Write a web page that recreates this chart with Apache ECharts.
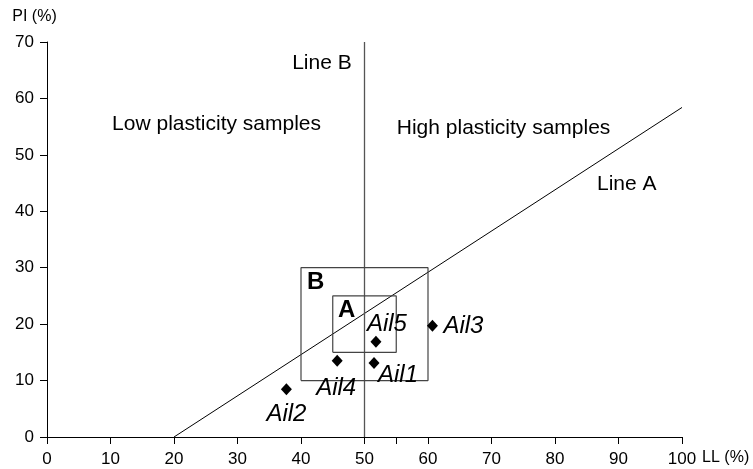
<!DOCTYPE html>
<html>
<head>
<meta charset="utf-8">
<script src="https://cdn.jsdelivr.net/npm/echarts@6/dist/echarts.min.js"></script>
<style>
  html, body { margin: 0; padding: 0; background: #fff; }
  #chart1 { width: 753px; height: 469px; }
</style>
</head>
<body>
<div id="chart1"></div>
<script>
'use strict';
// 样品数据 (LL, PI)
var sampleNames = ['Ail1', 'Ail2', 'Ail3', 'Ail4', 'Ail5'];
var sampleLL = [51.5, 37.7, 60.7, 45.7, 51.8];
var samplePI = [13.1, 8.45, 19.7, 13.5, 16.9];

// 参考线
var lineA_LL = [20, 100];
var lineA_PI = [0, 58.4];
var lineB_LL = [50, 50];
var lineB_PI = [0, 70];

// 方框 A / B
var boxA_LL = [45, 55, 55, 45, 45];
var boxA_PI = [15, 15, 25, 25, 15];
var boxB_LL = [40, 60, 60, 40, 40];
var boxB_PI = [10, 10, 30, 30, 10];

// 坐标轴刻度
var xTicks = [0, 10, 20, 30, 40, 50, 55, 60, 70, 80, 90, 100];
var xLabels = [0, 10, 20, 30, 40, 50, 60, 70, 80, 90, 100];

// 注释文字
var noteText = ['Line B', 'Low plasticity samples', 'High plasticity samples', 'Line A', 'A', 'B'];
var noteLL = [43.3, 26.7, 71.9, 91.3, 47.2, 42.3];
var notePI = [66.3, 55.5, 54.7, 44.8, 22.5, 27.4];

// 样品标签偏移
var labelOffset = {
    Ail1: [24, 12],
    Ail2: [0, 25],
    Ail3: [31, 0],
    Ail4: [-1, 28],
    Ail5: [11, -17]
};

function zip(xs, ys) {
    return xs.map(function (x, i) { return [x, ys[i]]; });
}

var myChart1 = echarts.init(document.getElementById('chart1'));
var font = 'Liberation Sans, Arial, sans-serif';

var sampleData = sampleNames.map(function (name, i) {
    return {
        name: name,
        value: [sampleLL[i], samplePI[i]],
        label: { offset: labelOffset[name] }
    };
});

var noteData = noteText.map(function (t, i) {
    var bold = (t === 'A' || t === 'B');
    return {
        name: t,
        value: [noteLL[i], notePI[i]],
        label: {
            fontSize: bold ? 24 : 21,
            fontWeight: bold ? 'bold' : 'normal'
        }
    };
});

var option = {
    animation: false,
    backgroundColor: '#fff',
    textStyle: { fontFamily: font },
    grid: { left: 47, right: 71, top: 42, bottom: 32, containLabel: false },
    xAxis: {
        type: 'value',
        min: 0,
        max: 100,
        interval: 10,
        name: 'LL (%)',
        nameLocation: 'end',
        nameGap: 19,
        nameTextStyle: {
            color: '#000', fontSize: 16, fontFamily: font,
            verticalAlign: 'top', padding: [13, 0, 0, 0]
        },
        axisLine: { show: true, lineStyle: { color: '#000', width: 1 } },
        axisTick: { show: true, length: 7, lineStyle: { color: '#000' }, customValues: xTicks },
        axisLabel: { color: '#000', fontSize: 17, margin: 14, fontFamily: font, customValues: xLabels },
        splitLine: { show: false }
    },
    yAxis: {
        type: 'value',
        min: 0,
        max: 70,
        interval: 10,
        name: 'PI (%)',
        nameLocation: 'end',
        nameGap: 17,
        nameTextStyle: {
            color: '#000', fontSize: 16, fontFamily: font,
            align: 'center', padding: [0, 25, 0, 0]
        },
        axisLine: { show: true, lineStyle: { color: '#000', width: 1 } },
        axisTick: { show: true, length: 7, lineStyle: { color: '#000' } },
        axisLabel: { color: '#000', fontSize: 17, margin: 13, fontFamily: font },
        splitLine: { show: false }
    },
    series: [
        {
            name: 'Line A',
            type: 'line',
            symbol: 'none',
            lineStyle: { color: '#000', width: 1 },
            data: zip(lineA_LL, lineA_PI),
            z: 2
        },
        {
            name: 'Line B',
            type: 'line',
            symbol: 'none',
            lineStyle: { color: '#555', width: 1.3 },
            data: zip(lineB_LL, lineB_PI),
            z: 2
        },
        {
            name: 'Box B',
            type: 'line',
            symbol: 'none',
            lineStyle: { color: '#444', width: 1.2 },
            data: zip(boxB_LL, boxB_PI),
            z: 2
        },
        {
            name: 'Box A',
            type: 'line',
            symbol: 'none',
            lineStyle: { color: '#444', width: 1.2 },
            data: zip(boxA_LL, boxA_PI),
            z: 2
        },
        {
            name: 'samples',
            type: 'scatter',
            symbol: 'diamond',
            symbolSize: [11, 12],
            itemStyle: { color: '#000', opacity: 1 },
            label: {
                show: true,
                position: 'inside',
                formatter: '{b}',
                color: '#000',
                fontSize: 24,
                fontStyle: 'italic',
                fontFamily: font
            },
            data: sampleData,
            z: 5
        },
        {
            name: 'notes',
            type: 'scatter',
            symbol: 'circle',
            symbolSize: 1,
            silent: true,
            itemStyle: { color: 'rgba(0,0,0,0)', opacity: 1 },
            label: {
                show: true,
                position: 'inside',
                formatter: '{b}',
                color: '#000',
                fontFamily: font
            },
            data: noteData,
            z: 4
        }
    ]
};
myChart1.setOption(option);
</script>
</body>
</html>
